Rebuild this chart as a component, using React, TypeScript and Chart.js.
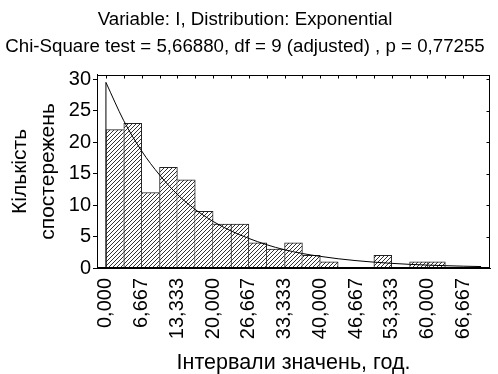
import React, { useEffect, useRef } from 'react';
import { Chart, registerables } from 'chart.js';

Chart.register(...registerables);

const titleLines = [
  'Variable: I, Distribution: Exponential',
  'Chi-Square test = 5,66880, df = 9 (adjusted) , p = 0,77255',
];
const xAxisTitle = 'Інтервали значень, год.';
const yAxisTitle = ['Кількість', 'спостережень'];

const binWidth = 3.33333;
const binStarts = [0, 3.333, 6.667, 10, 13.333, 16.667, 20, 23.333, 26.667, 30, 33.333, 36.667, 40, 43.333, 46.667, 50, 53.333, 56.667, 60, 63.333, 66.667];
const counts = [22, 23, 12, 16, 14, 9, 7, 7, 4, 3, 4, 2, 1, 0, 0, 2, 0, 1, 1, 0, 0];

const curveX = [0, 3.333, 6.667, 10, 13.333, 16.667, 20, 23.333, 26.667, 30, 33.333, 36.667, 40, 43.333, 46.667, 50, 53.333, 56.667, 60, 63.333, 66.667, 70];
const curveY = [29.5, 23.4, 18.6, 14.8, 11.7, 9.3, 7.4, 5.9, 4.7, 3.7, 2.9, 2.3, 1.85, 1.47, 1.17, 0.93, 0.74, 0.58, 0.46, 0.37, 0.29, 0.23];

const xTickValues = [0, 6.667, 13.333, 20, 26.667, 33.333, 40, 46.667, 53.333, 60, 66.667];
const xTickLabels = ['0,000', '6,667', '13,333', '20,000', '26,667', '33,333', '40,000', '46,667', '53,333', '60,000', '66,667'];
const yTickValues = [0, 5, 10, 15, 20, 25, 30];

const xMin = -1.667;
const xMax = 71.667;
const yMin = 0;
const yMax = 30.7;

function makeHatch(): CanvasPattern | string {
  const c = document.createElement('canvas');
  c.width = 4;
  c.height = 4;
  const g = c.getContext('2d');
  if (!g) return '#ccc';
  g.fillStyle = '#fff';
  g.fillRect(0, 0, 4, 4);
  g.strokeStyle = '#333';
  g.lineWidth = 1;
  g.beginPath();
  g.moveTo(0, 4);
  g.lineTo(4, 0);
  g.moveTo(-1, 1);
  g.lineTo(1, -1);
  g.moveTo(3, 5);
  g.lineTo(5, 3);
  g.stroke();
  return g.createPattern(c, 'repeat') || '#ccc';
}

const framePlugin = {
  id: 'frame',
  afterDraw(chart: any) {
    const { ctx, chartArea: a, scales } = chart;
    ctx.save();
    ctx.strokeStyle = '#000';
    ctx.lineWidth = 1;
    const l = Math.round(a.left) + 0.5;
    const t = Math.round(a.top) + 0.5;
    const r = Math.round(a.right) - 0.5;
    const b = Math.round(a.bottom) - 0.5;
    ctx.strokeRect(l, t, r - l, b - t);
    ctx.beginPath();
    binStarts.forEach((v) => {
      const x = Math.round(scales.x.getPixelForValue(v)) + 0.5;
      ctx.moveTo(x, t);
      ctx.lineTo(x, t + 3);
    });
    yTickValues.forEach((v) => {
      const y = Math.round(scales.y.getPixelForValue(v)) + 0.5;
      ctx.moveTo(r, y);
      ctx.lineTo(r - 3, y);
    });
    ctx.stroke();
    ctx.restore();
  },
};

export default function App() {
  const ref = useRef<HTMLCanvasElement | null>(null);

  useEffect(() => {
    document.body.style.margin = '0';
    const canvas = ref.current;
    if (!canvas) return;
    Chart.defaults.font.family = '"Liberation Sans", Arial, sans-serif';
    Chart.defaults.color = '#000';
    const hatch = makeHatch();

    const barBorder = (ctx: any) => {
      const i = ctx.dataIndex;
      const c = counts[i];
      const prev = i > 0 ? counts[i - 1] : 0;
      const next = i < counts.length - 1 ? counts[i + 1] : 0;
      return {
        top: 1,
        bottom: 0,
        left: c >= prev ? 1 : 0,
        right: c > next ? 1 : 0,
      };
    };

    const chart = new Chart(canvas, {
      type: 'bar',
      data: {
        datasets: [
          {
            type: 'line',
            data: curveX.map((x, i) => ({ x, y: curveY[i] })),
            borderColor: '#000',
            borderWidth: 1,
            pointRadius: 0,
            cubicInterpolationMode: 'monotone',
            fill: false,
            order: 0,
          } as any,
          {
            type: 'line',
            data: [
              { x: curveX[0], y: 0 },
              { x: curveX[0], y: curveY[0] },
            ],
            borderColor: '#000',
            borderWidth: 1,
            pointRadius: 0,
            fill: false,
            order: 0,
          } as any,
          {
            type: 'bar',
            data: binStarts.map((s, i) => ({ x: s + binWidth / 2, y: counts[i] })),
            backgroundColor: hatch,
            borderColor: '#222',
            borderWidth: barBorder,
            borderSkipped: false,
            barPercentage: 1,
            categoryPercentage: 1,
            order: 1,
          } as any,
        ],
      },
      options: {
        animation: false,
        responsive: false,
        devicePixelRatio: 1,
        layout: { padding: { left: 0, right: 8, top: 0, bottom: 0 } },
        plugins: {
          legend: { display: false },
          tooltip: { enabled: false },
          title: {
            display: true,
            text: titleLines,
            color: '#000',
            font: { size: 18.7, weight: 'normal', lineHeight: 1.44 },
            padding: { top: 6, bottom: 15 },
          },
        },
        scales: {
          x: {
            type: 'linear',
            offset: false,
            min: xMin,
            max: xMax,
            afterBuildTicks: (s: any) => {
              s.ticks = xTickValues.map((v) => ({ value: v }));
            },
            afterFit: (s: any) => {
              s.height = 106;
            },
            ticks: {
              autoSkip: false,
              minRotation: 90,
              maxRotation: 90,
              padding: 10,
              color: '#000',
              font: { size: 20 },
              callback: (_v: any, i: number) => xTickLabels[i],
            },
            grid: { display: false, drawTicks: false, offset: false },
            border: { display: true, color: '#000' },
            title: {
              display: true,
              text: xAxisTitle,
              color: '#000',
              font: { size: 21.5, lineHeight: 1 },
              padding: { top: 0, bottom: 0 },
            },
          },
          y: {
            type: 'linear',
            min: yMin,
            max: yMax,
            afterBuildTicks: (s: any) => {
              s.ticks = yTickValues.map((v) => ({ value: v }));
            },
            afterFit: (s: any) => {
              s.width = 97;
            },
            ticks: {
              padding: 2,
              color: '#000',
              font: { size: 20 },
            },
            grid: { drawOnChartArea: false, drawTicks: true, tickLength: 4, color: '#000' },
            border: { display: true, color: '#000' },
            title: {
              display: true,
              text: yAxisTitle,
              color: '#000',
              font: { size: 21, lineHeight: 1.33 },
              padding: { top: 6, bottom: 0 },
            },
          },
        },
      },
      plugins: [framePlugin],
    } as any);

    return () => chart.destroy();
  }, []);

  return (
    <div style={{ width: 498, height: 374 }}>
      <canvas ref={ref} width={498} height={374} style={{ display: 'block' }} />
    </div>
  );
}
